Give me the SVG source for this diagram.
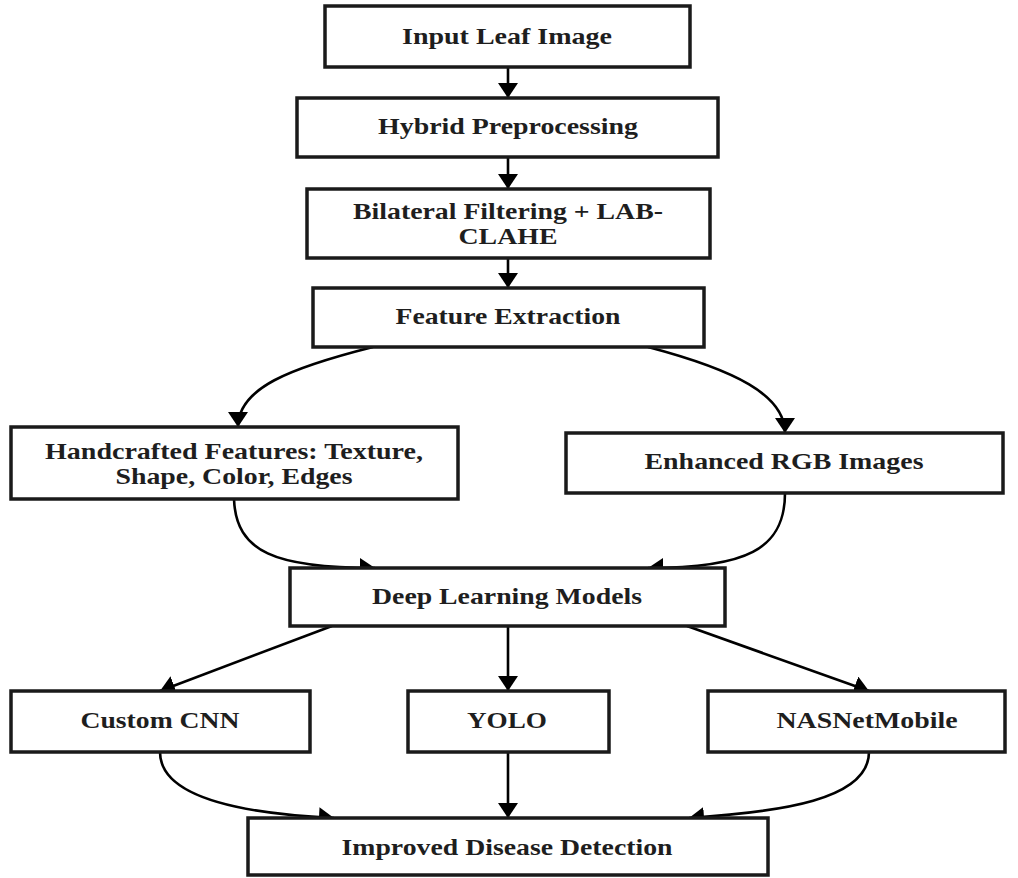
<svg xmlns="http://www.w3.org/2000/svg" width="1018" height="878" viewBox="0 0 1018 878">
  <style>
    .box { fill: #ffffff; stroke: #1a1a1a; stroke-width: 3.5; }
    .lbl { font-family: "Liberation Serif", "Times New Roman", serif; font-weight: bold; font-size: 24px; fill: #1e1e1e; text-anchor: middle; }
    .edge { fill: none; stroke: #000000; stroke-width: 2.6; }
  </style>
  <defs>
    <marker id="arrow" markerUnits="userSpaceOnUse" markerWidth="15" markerHeight="20" viewBox="0 0 15 20" refX="15" refY="10" orient="auto">
      <path d="M0,0 L15,10 L0,20 Z" fill="#000000"/>
    </marker>
  </defs>
  <rect width="1018" height="878" fill="#ffffff"/>

  <!-- connectors -->
  <g id="connectors">
    <path class="edge" d="M508,67 L508,98" marker-end="url(#arrow)"/>
    <path class="edge" d="M508,157 L508,189" marker-end="url(#arrow)"/>
    <path class="edge" d="M508,258 L508,288" marker-end="url(#arrow)"/>
    <path class="edge" d="M373,347 C 290,368 238,388 238,427" marker-end="url(#arrow)"/>
    <path class="edge" d="M648,347 C 735,370 785,395 785,433" marker-end="url(#arrow)"/>
    <path class="edge" d="M234,499 C 236,552 275,568 375,568" marker-end="url(#arrow)"/>
    <path class="edge" d="M785,493 C 785,550 745,568 648,568" marker-end="url(#arrow)"/>
    <path class="edge" d="M332,626 L160,691" marker-end="url(#arrow)"/>
    <path class="edge" d="M508,626 L508,691" marker-end="url(#arrow)"/>
    <path class="edge" d="M687,626 L869,691" marker-end="url(#arrow)"/>
    <path class="edge" d="M160,752 C 160,800 250,814 334,818" marker-end="url(#arrow)"/>
    <path class="edge" d="M508,752 L508,818" marker-end="url(#arrow)"/>
    <path class="edge" d="M869,752 C 869,800 780,812 689,818" marker-end="url(#arrow)"/>
  </g>

  <!-- nodes -->
  <g id="input">
    <rect class="box" x="325" y="6" width="365" height="61"/>
    <text class="lbl" x="507" y="44" textLength="210" lengthAdjust="spacingAndGlyphs">Input Leaf Image</text>
  </g>
  <g id="preprocess">
    <rect class="box" x="297" y="98" width="421" height="59"/>
    <text class="lbl" x="508" y="134" textLength="260" lengthAdjust="spacingAndGlyphs">Hybrid Preprocessing</text>
  </g>
  <g id="filtering">
    <rect class="box" x="307" y="189" width="403" height="69"/>
    <text class="lbl" x="508" y="219" textLength="310" lengthAdjust="spacingAndGlyphs">Bilateral Filtering + LAB-</text>
    <text class="lbl" x="508" y="244" textLength="99" lengthAdjust="spacingAndGlyphs">CLAHE</text>
  </g>
  <g id="features">
    <rect class="box" x="313" y="288" width="391" height="59"/>
    <text class="lbl" x="508" y="324" textLength="225" lengthAdjust="spacingAndGlyphs">Feature Extraction</text>
  </g>
  <g id="handcrafted">
    <rect class="box" x="11" y="427" width="447" height="72"/>
    <text class="lbl" x="234" y="459" textLength="378" lengthAdjust="spacingAndGlyphs">Handcrafted Features: Texture,</text>
    <text class="lbl" x="234" y="484" textLength="237" lengthAdjust="spacingAndGlyphs">Shape, Color, Edges</text>
  </g>
  <g id="enhanced">
    <rect class="box" x="566" y="433" width="437" height="60"/>
    <text class="lbl" x="784" y="469" textLength="279" lengthAdjust="spacingAndGlyphs">Enhanced RGB Images</text>
  </g>
  <g id="deep">
    <rect class="box" x="290" y="568" width="435" height="58"/>
    <text class="lbl" x="507" y="604" textLength="270" lengthAdjust="spacingAndGlyphs">Deep Learning Models</text>
  </g>
  <g id="cnn">
    <rect class="box" x="11" y="691" width="299" height="61"/>
    <text class="lbl" x="160" y="728" textLength="159" lengthAdjust="spacingAndGlyphs">Custom CNN</text>
  </g>
  <g id="yolo">
    <rect class="box" x="408" y="691" width="201" height="61"/>
    <text class="lbl" x="507" y="728" textLength="80" lengthAdjust="spacingAndGlyphs">YOLO</text>
  </g>
  <g id="nasnet">
    <rect class="box" x="708" y="691" width="297" height="61"/>
    <text class="lbl" x="867" y="728" textLength="181" lengthAdjust="spacingAndGlyphs">NASNetMobile</text>
  </g>
  <g id="result">
    <rect class="box" x="248" y="818" width="520" height="57"/>
    <text class="lbl" x="507" y="855" textLength="331" lengthAdjust="spacingAndGlyphs">Improved Disease Detection</text>
  </g>
</svg>
